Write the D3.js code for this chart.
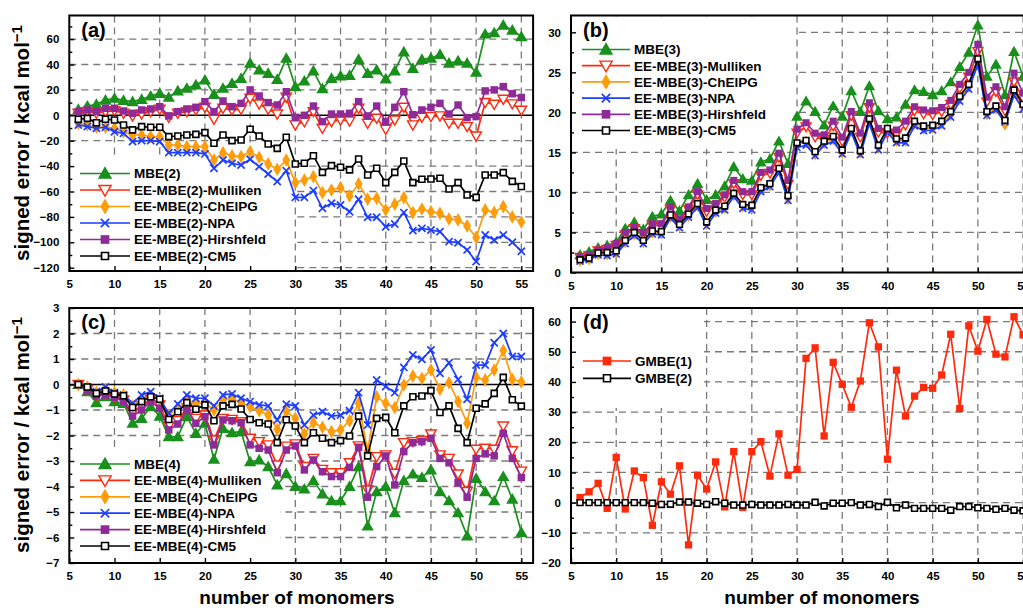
<!DOCTYPE html>
<html>
<head>
<meta charset="utf-8">
<script src="https://cdn.jsdelivr.net/npm/d3@7"></script>
<style>
  body { margin: 0; background: #fff; }
  svg { display: block; font-family: "Liberation Sans", Arial, sans-serif; font-weight: bold; }
</style>
</head>
<body>
<div id="chart"></div>
<script>
// number of monomers (x) shared by every panel
const monomers = [6,7,8,9,10,11,12,13,14,15,16,17,18,19,20,21,22,23,24,25,26,27,28,29,30,
                  31,32,33,34,35,36,37,38,39,40,41,42,43,44,45,46,47,48,49,50,51,52,53,54,55];
const xTicks = [5,10,15,20,25,30,35,40,45,50,55];

// (a) two-body
const mbe2      = [4.7,7.3,8.7,12,13.4,11.8,10.8,12.6,15.2,17.3,14.2,19.2,21.3,23.9,27.8,16.5,21.3,25.2,29.1,41,35.7,33,28.3,44.9,
                   22.5,27,35,21,29,31,31.5,44,33,35.7,28.6,35,50,37,44,45,48,41,42.8,41,34,64,65,71,67,62];
const ee2Mull   = [1.6,2.9,1.6,2.9,3.7,1.6,-0.5,1,2.9,4.7,-1.6,1.6,2.9,4.2,6.3,-3.1,5.5,4.2,4.7,13.4,8.9,4.7,1,14.2,
                   -7.6,-5,2.9,-10.2,-5,-3.7,-4.5,5.5,-6.3,-2.4,-11,-3.7,6.3,-7.6,-1.6,-1,-0.5,-6.3,-6.3,-8.9,-16.3,10,8.7,12.6,9,4];
const ee2Chelpg = [-6.3,-7.6,-9.4,-9.4,-10.2,-12.9,-15.5,-15.5,-16.8,-16.8,-23.4,-23.4,-24.7,-24.7,-24.7,-35.2,-29.4,-32,-32.5,-28.6,-33,-38.3,-42.5,-35.2,
                   -53,-51,-48.3,-60.9,-58.8,-57,-63.5,-54,-66,-65.4,-74.5,-70,-64.8,-76.6,-73.8,-75.9,-77.2,-81.6,-82.4,-87.1,-96.3,-74.5,-76.4,-71.9,-80,-84];
const ee2Npa    = [-7.6,-8.9,-10.2,-9.4,-12.9,-14.2,-20.7,-19.9,-19.9,-20.7,-29.4,-29.4,-29.4,-29.4,-30.4,-41.7,-35.2,-37.8,-39.1,-34.6,-40.4,-46.2,-52.2,-43.6,
                   -64.6,-64.6,-59.3,-73.2,-69.3,-70.6,-75.9,-66.1,-80.3,-80.3,-87.7,-85.6,-76.6,-90.8,-89,-90.3,-91.6,-99.5,-100.3,-106,-115.2,-94.2,-98.2,-94.2,-100,-107];
const ee2Hirsh  = [2.9,4.2,2.9,5.5,5.5,3.4,1.6,4.2,5,6.8,-0.5,2.9,5,6.3,10.8,2.9,11.3,6.8,9.4,20,15.2,10,8.1,18.6,
                   -1.6,0,7.3,-5,1,1,1.6,10.8,-0.5,7.3,-5,6.3,18.6,0.5,4.2,6.3,9.4,1,8.1,-1.8,-1,19.2,20,22.6,17,14];
const ee2Cm5    = [-3.1,-2.4,-5.8,-3.1,-3.7,-7.6,-11.5,-8.9,-9.4,-9.4,-16.8,-16.3,-15.5,-15,-13.6,-22,-15.5,-19.9,-19.4,-11,-16.3,-22.6,-26,-17.3,
                   -38.3,-37.8,-31.8,-44.9,-39.6,-40.9,-43,-34.4,-47,-41.7,-53,-44.9,-36,-53,-50.4,-50.1,-49.6,-58,-53,-62.7,-64.6,-47,-47,-45.1,-52,-56];

// (b) three-body
const mbe3      = [2.2,2.6,3.1,3.4,3.8,5.5,6.3,5.4,7,7.3,9,7.7,9.7,11.1,9.1,9.7,10.8,13.2,11.7,11.5,13.8,14.2,16.4,13.6,
                   19.5,21.4,20.1,18.4,20.8,19.5,22.7,20.1,23.3,20.2,19.2,19.4,21,22.8,22.6,22.2,22.7,23.8,25.7,27.5,30.9,24.5,26,22.2,27.6,24.5];
const ee3Mull   = [1.9,2.1,2.7,2.9,3.4,4.7,5.5,4.8,5.9,5.8,7.9,6.5,7.9,9.7,7.6,8.4,9.4,11.1,9.7,9.7,12.1,12.4,14.4,11,
                   17.4,18.2,16.9,16.6,18.3,16.4,19.6,16.9,20.6,17.5,17.4,17.3,18.4,20.2,19.8,19.7,20.1,21,23,24.4,27.6,21.3,22.6,20.2,23.8,21.8];
const ee3Chelpg = [1.5,1.7,2.3,2.3,2.5,3.8,4.8,3.8,5,4.9,7,5.8,7.1,8.4,6.1,7.6,8.1,9.7,8.3,8.2,10.4,10.9,12.8,9.2,
                   16,16.3,14.8,16.2,16.7,15,17.8,15,19,15.6,17.8,16.5,16.5,18.6,18,18.1,18.6,19.7,21.7,23.2,26.4,19.8,20.5,18.5,22.5,20.7];
const ee3Npa    = [1.4,1.6,2.2,2.1,2.3,3.6,4.6,3.6,4.8,4.7,6.8,5.6,6.9,8.1,5.8,7.4,7.8,9.5,8,7.8,10.1,10.7,12.5,9,
                   15.6,15.9,14.6,15.9,16.4,14.8,17.5,14.7,18.6,15.3,17.5,16.2,16.2,18.3,17.7,17.8,18.3,19.4,21.4,22.9,26,19.6,20.3,18.8,22.1,20.4];
const ee3Hirsh  = [2,2.2,2.8,3.1,3.6,5,5.7,5,6.1,6.1,8.2,6.7,8.2,10.1,8,8.6,9.7,11.5,10.1,10.1,12.5,12.8,14.9,11.5,
                   17.9,18.7,17.4,17.2,18.9,16.9,20.1,17.4,21.2,18,17.8,17.8,18.9,20.7,20.3,20.2,20.6,21.5,23.5,25,28.5,21.9,23.2,20.7,24.9,22.4];
const ee3Cm5    = [1.6,1.8,2.45,2.5,2.7,4,5,4,5.2,5.1,7.2,6,7.3,8.6,6.3,7.8,8.3,9.9,8.5,8.4,10.6,11.1,13,9.6,
                   16.2,16.5,15.1,16.4,17,15.3,18,15.2,19.2,15.9,18,16.7,16.8,18.9,18.3,18.4,18.9,20.1,22,23.5,26.7,20.1,20.8,19,22.8,21];

// (c) four-body
const mbe4      = [0,-0.28,-0.71,-0.48,-0.67,-0.74,-1.52,-1.33,-0.87,-1.24,-2.05,-2.05,-1.26,-1.92,-1.52,-2.93,-1.72,-1.89,-1.85,-3.03,-2.96,-3.22,-3.94,-3.5,
                   -4,-4.1,-3.77,-4.29,-4.56,-4.56,-4,-3.22,-5.55,-4.2,-4,-5.03,-3.77,-3.51,-3.64,-3.35,-4.2,-4.56,-5.03,-5.94,-3.68,-4.2,-4.56,-3.61,-4.5,-5.8];
const ee4Mull   = [0,-0.2,-0.41,-0.35,-0.48,-0.61,-1.1,-0.84,-0.58,-0.8,-1.63,-1.42,-0.9,-1.33,-1.2,-2.18,-1.33,-1.37,-1.46,-2.11,-2.24,-2.37,-3.16,-2.42,
                   -2.33,-3.22,-2.9,-3.33,-3.46,-3.46,-3.07,-2.41,-4.14,-2.83,-2.76,-3.48,-2.28,-2.24,-2.2,-1.94,-2.76,-2.9,-3.51,-4.2,-2.54,-2.5,-2.54,-1.63,-2.6,-3.4];
const ee4Chelpg = [0,-0.1,-0.32,-0.2,-0.32,-0.41,-0.84,-0.61,-0.45,-0.61,-1.2,-0.93,-0.61,-0.74,-0.71,-1,-0.61,-0.54,-0.71,-0.87,-1.03,-1.2,-1.76,-1.06,
                   -1.33,-1.94,-1.5,-1.68,-1.85,-1.78,-1.42,-0.74,-2.6,-0.48,-0.74,-0.91,-0.02,0.33,0.24,0.57,-0.19,0.07,-0.67,-1.52,0.28,0.18,0.57,1.33,0.2,0.1];
const ee4Npa    = [0,-0.1,-0.28,-0.1,-0.32,-0.41,-0.74,-0.41,-0.28,-0.54,-1.13,-0.76,-0.41,-0.54,-0.54,-0.84,-0.41,-0.37,-0.54,-0.67,-0.8,-0.84,-1.39,-0.77,
                   -0.84,-1.59,-1.2,-1.07,-1.24,-1.2,-1.03,-0.32,-1.59,0.18,-0.08,-0.32,0.67,1.16,0.99,1.35,0.44,0.85,0.2,-0.58,0.76,0.76,1.64,2,1.1,1.1];
const ee4Hirsh  = [0,-0.24,-0.45,-0.41,-0.5,-0.67,-1.24,-1,-0.67,-0.93,-1.78,-1.55,-1,-1.52,-1.26,-2.37,-1.39,-1.42,-1.5,-2.37,-2.5,-2.57,-3.46,-2.57,
                   -2.41,-3.35,-2.96,-3.42,-3.61,-3.61,-3.25,-2.46,-4.42,-3.22,-2.8,-3.94,-2.63,-2.28,-2.24,-2.11,-2.9,-3.07,-3.85,-4.42,-2.9,-2.72,-2.8,-1.92,-2.9,-3.65];
const ee4Cm5    = [0,-0.1,-0.35,-0.25,-0.37,-0.44,-0.9,-0.67,-0.48,-0.58,-1.37,-1.07,-0.71,-0.97,-0.8,-1.42,-0.84,-0.78,-0.96,-1.37,-1.5,-1.55,-2.28,-1.38,
                   -1.63,-2.28,-1.89,-2.11,-2.28,-2.2,-2.02,-1.24,-2.8,-1.33,-1.29,-1.89,-0.84,-0.48,-0.45,-0.24,-1.1,-0.84,-1.72,-2.28,-0.93,-0.76,-0.35,0.28,-0.6,-0.85];

// (d) generalized MBE
const gmbe1     = [1.7,3.6,6.4,-1.9,15,-2.1,10.5,8.3,-7.5,6.9,2.8,12.2,-14,9.1,4.5,13.5,-1.4,16.9,-1.6,16.9,20.2,8.8,22.8,9.1,
                   11,47.8,51.3,22.1,46.5,39.2,31.6,40.3,59.6,51.6,14.4,43.9,28.7,35.3,38.2,37.9,42.3,55.8,31.2,58.6,50.2,60.7,49.2,48.3,61.6,55.6];
const gmbe2     = [0,0,0,0,0,0,0,0,-0.2,-0.6,-0.5,0.2,0.2,-0.2,-0.6,0.3,-0.2,-0.8,-0.8,-0.6,-0.8,-0.8,-0.8,-0.6,
                   -0.8,-0.8,0.1,-1.1,-0.2,-0.2,0,-0.8,-0.6,-1.3,0.1,-1.7,-0.8,-1.9,-1.9,-1.9,-1.9,-2.5,-1.3,-1.3,-1.7,-1.9,-2.2,-1.9,-2.5,-2.7];

const width = 1023, height = 608;
const col = {green: "#19901c", red: "#ff2a0c", orange: "#ff9c0a", blue: "#1d3dff", purple: "#8f2b99", black: "#000"};

const svg = d3.select("#chart").append("svg")
    .attr("width", width)
    .attr("height", height);

// marker shapes
const tri = d3.symbol().type(d3.symbolTriangle);
const sq = d3.symbol().type(d3.symbolSquare);
const dia = d3.symbol().type(d3.symbolDiamond);
function marker(g, kind, color, cx, cy, k) {
    k = k || 1;
    if (kind == "tri") {
        g.append("path").attr("d", tri.size(66 * k)()).attr("transform", `translate(${cx},${cy + 1})`).attr("fill", color);
    } else if (kind == "itri") {
        g.append("path").attr("d", tri.size(48 * k)()).attr("transform", `translate(${cx},${cy - 1}) rotate(180)`)
            .attr("fill", "#fff").attr("stroke", color).attr("stroke-width", 1.4);
    } else if (kind == "dia") {
        g.append("path").attr("d", dia.size(54 * k)()).attr("transform", `translate(${cx},${cy})`).attr("fill", color);
    } else if (kind == "x") {
        const r = 3.6 * Math.sqrt(k);
        g.append("path").attr("d", `M${cx - r},${cy - r}L${cx + r},${cy + r}M${cx - r},${cy + r}L${cx + r},${cy - r}`)
            .attr("stroke", color).attr("stroke-width", 1.7).attr("fill", "none");
    } else if (kind == "sq") {
        g.append("path").attr("d", sq.size(56 * k)()).attr("transform", `translate(${cx},${cy})`).attr("fill", color);
    } else if (kind == "osq") {
        g.append("path").attr("d", sq.size(36 * k)()).attr("transform", `translate(${cx},${cy})`)
            .attr("fill", "#fff").attr("stroke", color).attr("stroke-width", 1.6);
    }
}

function panel(cfg) {
    const x = d3.scaleLinear().domain([5, 56.3]).range([cfg.left, cfg.left + 463.8]);
    const y = d3.scaleLinear().domain(cfg.yDomain).range([cfg.bottom, cfg.top]);
    const g = svg.append("g");
    const x0 = cfg.left, x1 = cfg.left + 463.8;

    // dashed grid
    const grid = g.append("g").attr("stroke", "#7a7a7a").attr("stroke-width", 1.3).attr("stroke-dasharray", "7,5");
    cfg.gridY.forEach(v => grid.append("line").attr("x1", x0).attr("x2", x1).attr("y1", y(v)).attr("y2", y(v)));
    xTicks.slice(1).forEach(v => grid.append("line").attr("x1", x(v)).attr("x2", x(v)).attr("y1", cfg.top).attr("y2", cfg.bottom));

    // legend box hides the grid
    g.append("rect").attr("x", x0 + 1).attr("y", cfg.legBox[1]).attr("width", cfg.legBox[0] - x0 - 1)
        .attr("height", cfg.legBox[2] - cfg.legBox[1]).attr("fill", "#fff");

    if (cfg.zero) {
        g.append("line").attr("x1", x0).attr("x2", x1).attr("y1", y(0)).attr("y2", y(0))
            .attr("stroke", "#000").attr("stroke-width", 1.6);
    }

    // series
    const line = d3.line().x((d, i) => x(monomers[i])).y(d => y(d));
    cfg.series.forEach(s => {
        g.append("path").attr("d", line(s.values)).attr("fill", "none")
            .attr("stroke", s.color).attr("stroke-width", 1.7).attr("stroke-linejoin", "round");
        s.values.forEach((v, i) => marker(g, s.kind, s.color, x(monomers[i]), y(v), cfg.mk));
    });

    // axes, ticks inside
    const ax = g.append("g").attr("transform", `translate(0,${cfg.bottom})`)
        .call(d3.axisBottom(x).tickValues(xTicks).tickSize(-5).tickPadding(9).tickFormat(d3.format("d")));
    const ay = g.append("g").attr("transform", `translate(${x0},0)`)
        .call(d3.axisLeft(y).tickValues(cfg.yTicks).tickSize(-5).tickPadding(10).tickFormat(d3.format("d")));
    const am = g.append("g").attr("transform", `translate(${x0},0)`)
        .call(d3.axisLeft(y).tickValues(cfg.yMinor).tickSize(-3).tickFormat(""));
    [ax, ay, am].forEach(a => {
        a.select(".domain").remove();
        a.selectAll("line").attr("stroke", "#000").attr("stroke-width", 1.4);
        a.selectAll("text").attr("font-size", 11.5).attr("font-weight", "bold")
            .attr("font-family", "Liberation Sans, Arial, sans-serif").attr("fill", "#000");
    });

    g.append("rect").attr("x", x0).attr("y", cfg.top).attr("width", x1 - x0).attr("height", cfg.bottom - cfg.top)
        .attr("fill", "none").attr("stroke", "#000").attr("stroke-width", 2);

    g.append("text").attr("x", x0 + 12).attr("y", cfg.top + 21).attr("font-size", 20).text(cfg.label);

    // legend
    const lg = cfg.legend;
    cfg.series.forEach((s, i) => {
        const ly = lg.y + i * lg.step;
        g.append("line").attr("x1", lg.x1).attr("x2", lg.x2).attr("y1", ly).attr("y2", ly)
            .attr("stroke", s.color).attr("stroke-width", 1.7);
        marker(g, s.kind, s.color, (lg.x1 + lg.x2) / 2, ly, 1.35);
        g.append("text").attr("x", lg.x2 + 4).attr("y", ly).attr("dy", "0.36em")
            .attr("font-size", 13.5).text(s.name);
    });
}

panel({
    left: 69.3, top: 15.5, bottom: 271, yDomain: [-122.6, 78.6], label: "(a)", zero: true, mk: 1,
    yTicks: [-120, -100, -80, -60, -40, -20, 0, 20, 40, 60],
    yMinor: [-110, -90, -70, -50, -30, -10, 10, 30, 50, 70],
    gridY: [-120, -100, -80, -60, -40, -20, 20, 40, 60],
    legBox: [294, 156, 270],
    legend: {x1: 80, x2: 130, y: 173.5, step: 16.5},
    series: [
        {name: "MBE(2)", values: mbe2, color: col.green, kind: "tri"},
        {name: "EE-MBE(2)-Mulliken", values: ee2Mull, color: col.red, kind: "itri"},
        {name: "EE-MBE(2)-ChElPG", values: ee2Chelpg, color: col.orange, kind: "dia"},
        {name: "EE-MBE(2)-NPA", values: ee2Npa, color: col.blue, kind: "x"},
        {name: "EE-MBE(2)-Hirshfeld", values: ee2Hirsh, color: col.purple, kind: "sq"},
        {name: "EE-MBE(2)-CM5", values: ee2Cm5, color: col.black, kind: "osq"}
    ]
});

panel({
    left: 571, top: 15.5, bottom: 272.5, yDomain: [0, 32.1], label: "(b)", zero: false, mk: 0.9,
    yTicks: [0, 5, 10, 15, 20, 25, 30],
    yMinor: [2.5, 7.5, 12.5, 17.5, 22.5, 27.5],
    gridY: [5, 10, 15, 20, 25, 30],
    legBox: [794, 16.5, 149],
    legend: {x1: 582, x2: 630, y: 49.5, step: 16.2},
    series: [
        {name: "MBE(3)", values: mbe3, color: col.green, kind: "tri"},
        {name: "EE-MBE(3)-Mulliken", values: ee3Mull, color: col.red, kind: "itri"},
        {name: "EE-MBE(3)-ChElPG", values: ee3Chelpg, color: col.orange, kind: "dia"},
        {name: "EE-MBE(3)-NPA", values: ee3Npa, color: col.blue, kind: "x"},
        {name: "EE-MBE(3)-Hirshfeld", values: ee3Hirsh, color: col.purple, kind: "sq"},
        {name: "EE-MBE(3)-CM5", values: ee3Cm5, color: col.black, kind: "osq"}
    ]
});

panel({
    left: 69.3, top: 308, bottom: 563, yDomain: [-7, 3], label: "(c)", zero: true, mk: 1,
    yTicks: [-7, -6, -5, -4, -3, -2, -1, 0, 1, 2, 3],
    yMinor: [-6.5, -5.5, -4.5, -3.5, -2.5, -1.5, -0.5, 0.5, 1.5, 2.5],
    gridY: [-6, -5, -4, -3, -2, -1, 1, 2],
    legBox: [280, 448, 562],
    legend: {x1: 80, x2: 130, y: 464, step: 16.4},
    series: [
        {name: "MBE(4)", values: mbe4, color: col.green, kind: "tri"},
        {name: "EE-MBE(4)-Mulliken", values: ee4Mull, color: col.red, kind: "itri"},
        {name: "EE-MBE(4)-ChElPG", values: ee4Chelpg, color: col.orange, kind: "dia"},
        {name: "EE-MBE(4)-NPA", values: ee4Npa, color: col.blue, kind: "x"},
        {name: "EE-MBE(4)-Hirshfeld", values: ee4Hirsh, color: col.purple, kind: "sq"},
        {name: "EE-MBE(4)-CM5", values: ee4Cm5, color: col.black, kind: "osq"}
    ]
});

panel({
    left: 571, top: 308, bottom: 563, yDomain: [-20, 64.5], label: "(d)", zero: false, mk: 0.95,
    yTicks: [-20, -10, 0, 10, 20, 30, 40, 50, 60],
    yMinor: [-15, -5, 5, 15, 25, 35, 45, 55],
    gridY: [-10, 0, 10, 20, 30, 40, 50, 60],
    legBox: [704, 309, 408],
    legend: {x1: 583, x2: 631, y: 361, step: 17.3},
    series: [
        {name: "GMBE(1)", values: gmbe1, color: col.red, kind: "sq"},
        {name: "GMBE(2)", values: gmbe2, color: col.black, kind: "osq"}
    ]
});

// axis titles
function yTitle(cy) {
    const t = svg.append("text").attr("transform", `translate(29,${cy}) rotate(-90)`)
        .attr("text-anchor", "middle").attr("font-size", 20.5);
    t.append("tspan").text("signed error / kcal mol");
    t.append("tspan").attr("font-size", 15).attr("dy", -7).text("\u22121");
}
yTitle(143);
yTitle(435);
svg.append("text").attr("x", 297).attr("y", 604).attr("text-anchor", "middle").attr("font-size", 19).text("number of monomers");
svg.append("text").attr("x", 822).attr("y", 604).attr("text-anchor", "middle").attr("font-size", 19).text("number of monomers");
</script>
</body>
</html>
